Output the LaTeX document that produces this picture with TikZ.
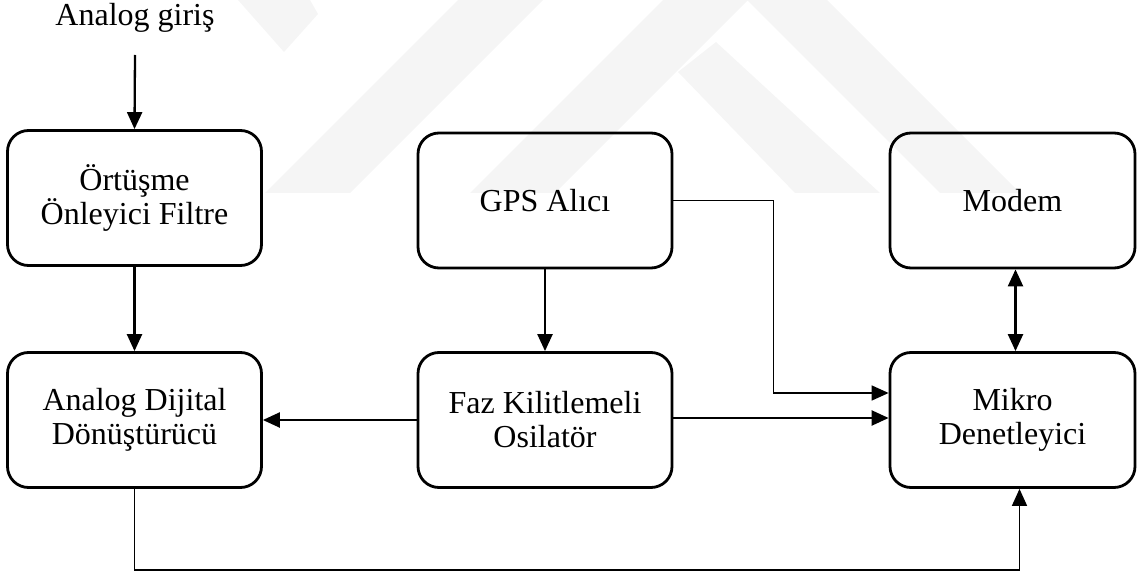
\documentclass[tikz,border=0pt]{standalone}
\usepackage{fontspec}
\setmainfont{Liberation Serif}
\usetikzlibrary{arrows.meta}

\tikzset{
  block/.style={draw, line width=2.8pt, rounded corners=21pt, align=center,
    minimum width=254pt, minimum height=135pt, inner sep=0pt},
  head/.style={Triangle[length=17pt,width=15pt]},
  flow/.style={line width=2.3pt, -{Triangle[length=17pt,width=15pt]}},
  twoway/.style={line width=2.3pt, {Triangle[length=17pt,width=15pt]}-{Triangle[length=17pt,width=15pt]}},
  feed/.style={line width=1.6pt, -{Triangle[length=17pt,width=15pt]}},
  mark band/.style={fill=black!4, draw=none}
}

\begin{document}
\begin{tikzpicture}[x=1pt, y=-1pt, font=\fontsize{32}{34}\selectfont]
  \useasboundingbox (0,0) rectangle (1137,572);

  % faint background emblem
  \fill[mark band] (238,0) -- (310,0) -- (318,14) -- (284,52) -- cycle;
  \fill[mark band] (265,193) -- (350,193) -- (543,0) -- (458,0) -- cycle;
  \fill[mark band] (470,193) -- (555,193) -- (748,0) -- (663,0) -- cycle;
  \fill[mark band] (747,0) -- (827,0) -- (1020,193) -- (940,193) -- cycle;
  \fill[mark band] (678,72) -- (716,42) -- (880,193) -- (795,193) -- cycle;

  % blocks
  \node[block] (aaf)   at (134.5,198) {Örtüşme\\Önleyici Filtre};
  \node[block] (adc)   at (134.5,420) {Analog Dijital\\Dönüştürücü};
  \node[block] (gps)   at (545,200.5) {GPS Alıcı};
  \node[block] (pll)   at (545,420)   {Faz Kilitlemeli\\Osilatör};
  \node[block, minimum width=245pt] (modem) at (1012.5,200.5) {Modem};
  \node[block, minimum width=245pt] (mcu)   at (1012.5,420)   {Mikro\\Denetleyici};

  % input
  \node[inner sep=0pt] (input) at (135,18) {Analog giriş};
  \coordinate (instart) at (135,55);

  % connectors
  \draw[flow] (instart) -- (aaf.north);
  \draw[flow] (aaf.south) -- (adc.north);
  \draw[flow] (gps.south) -- (pll.north);
  \draw[flow] (pll.west) -- (adc.east);
  \draw[flow] ([yshift=2pt]pll.east) -- ([yshift=2pt]mcu.west);
  \draw[feed] (gps.east) -- ++(100,0) |- ([yshift=27pt]mcu.west);
  \draw[twoway] ([xshift=3pt]modem.south) -- ([xshift=3pt]mcu.north);
  \draw[feed] (adc.south) -- ++(0,81) -| ([xshift=7pt]mcu.south);
\end{tikzpicture}
\end{document}
